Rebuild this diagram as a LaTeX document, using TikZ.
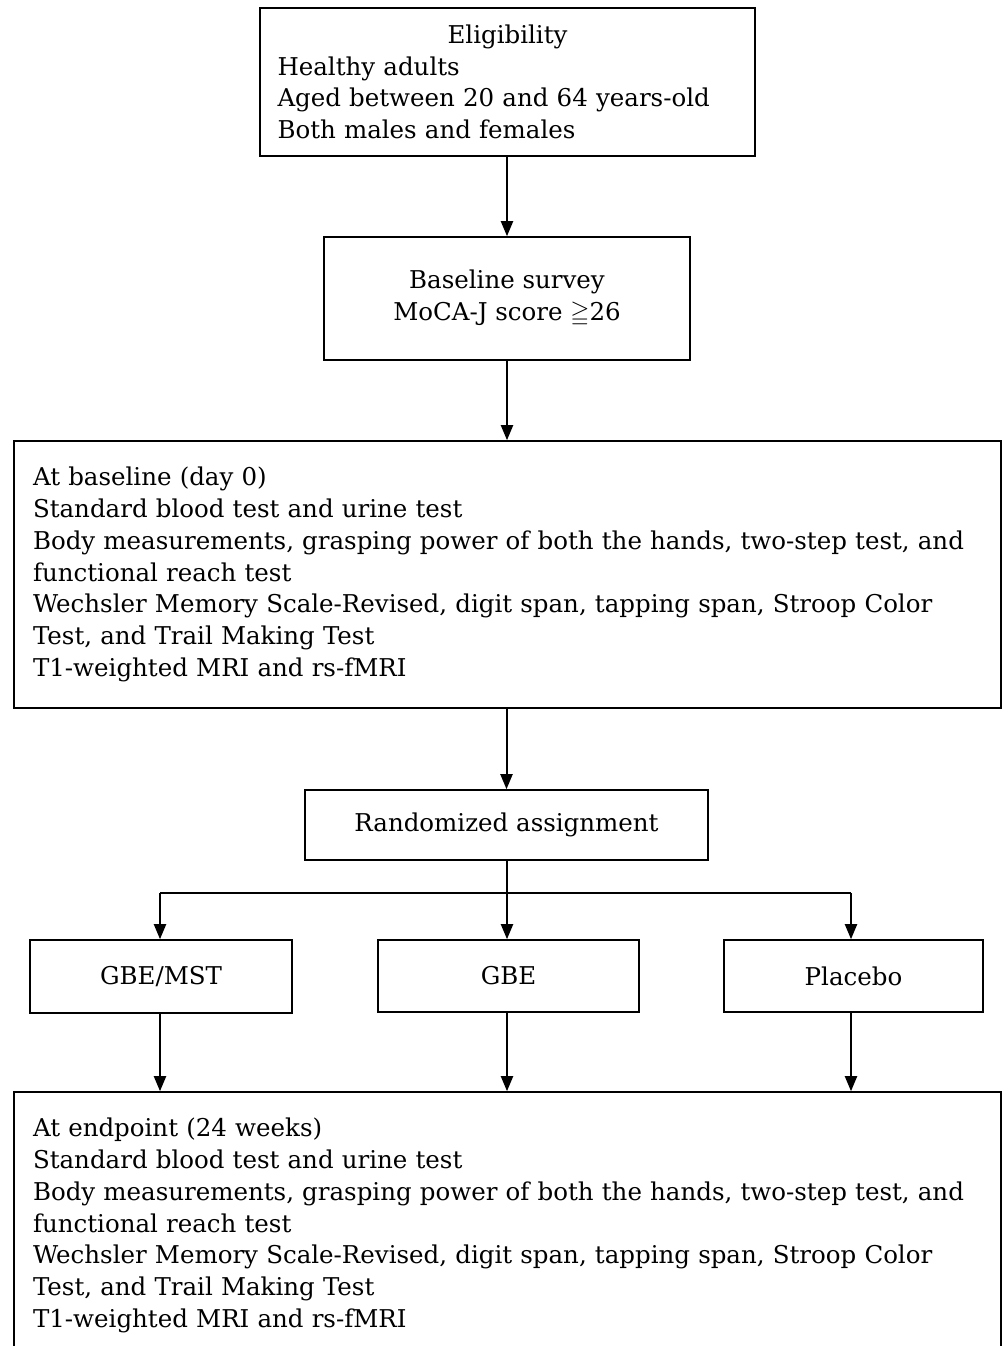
\documentclass[tikz,border=0pt]{standalone}
\usepackage{amssymb}
\usepackage{fontspec}
\setmainfont{DejaVu Serif}
\usetikzlibrary{arrows.meta}
\begin{document}
\begin{tikzpicture}[x=1pt,y=-1pt,
  box/.style={draw,line width=1.6pt,inner sep=0pt,font=\fontsize{24.5}{31.7}\selectfont},
  conn/.style={line width=2pt,-{Triangle[length=15pt,width=12pt]}},
  line/.style={line width=2pt}]
\useasboundingbox (0,0) rectangle (1008,1346);
\node[box,minimum width=495,minimum height=148,align=left,text width=460] (elig) at (507.5,82)
 {\hfill Eligibility\hfill\null\\Healthy adults\\Aged between 20 and 64 years-old\\Both males and females};
\node[box,minimum width=366,minimum height=123,align=center] (base) at (507,298.5)
 {Baseline survey\\MoCA-J score $\geqq$26};
\node[box,minimum width=987,minimum height=267,align=left,text width=949] (day0) at (507.5,574.5)
 {At baseline (day 0)\\Standard blood test and urine test\\Body measurements, grasping power of both the hands, two-step test, and\\functional reach test\\Wechsler Memory Scale-Revised, digit span, tapping span, Stroop Color\\Test, and Trail Making Test\\T1-weighted MRI and rs-fMRI};
\node[box,minimum width=403,minimum height=70,align=center] (rand) at (506.5,825) {Randomized assignment};
\node[box,minimum width=262,minimum height=73,align=center] (g1) at (161,976.5) {GBE/MST};
\node[box,minimum width=261,minimum height=72,align=center] (g2) at (508.5,976) {GBE};
\node[box,minimum width=259,minimum height=72,align=center] (g3) at (853.5,976) {Placebo};
\node[box,minimum width=987,minimum height=267,align=left,text width=949] (end) at (507.5,1225.5)
 {At endpoint (24 weeks)\\Standard blood test and urine test\\Body measurements, grasping power of both the hands, two-step test, and\\functional reach test\\Wechsler Memory Scale-Revised, digit span, tapping span, Stroop Color\\Test, and Trail Making Test\\T1-weighted MRI and rs-fMRI};
\coordinate (split) at (507,893);
\coordinate (sl) at (160,893);
\coordinate (sr) at (851,893);
\draw[conn] (elig.south -| base.north) -- (base.north);
\draw[conn] (base.south) -- (base.south |- day0.north);
\draw[conn] (day0.south -| rand.north) -- (rand.north);
\draw[line] (rand.south -| split) -- (split);
\draw[line] (sl) -- (sr);
\draw[conn] (split) -- (split |- g2.north);
\draw[conn] (sl) -- (sl |- g1.north);
\draw[conn] (sr) -- (sr |- g3.north);
\draw[conn] (g1.south -| sl) -- (sl |- end.north);
\draw[conn] (g2.south -| split) -- (split |- end.north);
\draw[conn] (g3.south -| sr) -- (sr |- end.north);
\end{tikzpicture}
\end{document}
